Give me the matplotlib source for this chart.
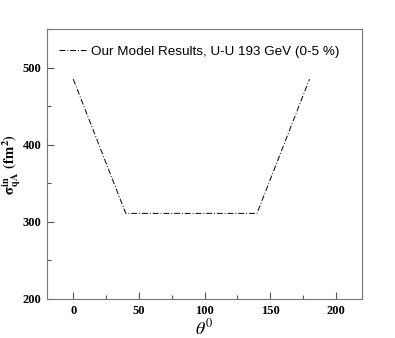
import matplotlib
matplotlib.use("Agg")
import matplotlib.pyplot as plt
from matplotlib.ticker import MultipleLocator

plt.rcParams["mathtext.fontset"] = "stix"

# data
theta = [0, 40, 140, 180]
sigma = [485, 311, 311, 485]
label = "Our Model Results, U-U 193 GeV (0-5 %)"

fig = plt.figure(figsize=(3.95, 3.38), dpi=100)
ax = fig.add_axes([47/395, 1 - 299/338, (362-47)/395, (299-29)/338])

ax.plot(theta, sigma, color="black", lw=0.7, linestyle=(0, (6, 2, 1, 2)), label=label)

ax.set_xlim(-20, 220)
ax.set_ylim(200, 550)
ax.xaxis.set_major_locator(MultipleLocator(50))
ax.xaxis.set_minor_locator(MultipleLocator(25))
ax.yaxis.set_major_locator(MultipleLocator(100))
ax.yaxis.set_minor_locator(MultipleLocator(50))
ax.tick_params(which="both", direction="in", color="#555555", width=0.8, pad=4)
ax.tick_params(which="major", length=5)
ax.tick_params(which="minor", length=3)
for s in ax.spines.values():
    s.set_color("#777777")
    s.set_linewidth(0.8)

for t in ax.get_xticklabels() + ax.get_yticklabels():
    t.set_fontfamily("Liberation Serif")
    t.set_fontweight("bold")
    t.set_fontsize(9)

ax.set_xlabel(r"$\theta^0$", fontsize=13, labelpad=1)
ax.set_ylabel(r"$\mathbf{\sigma^{in}_{qA}}$ $\mathbf{(fm^2)}$", fontsize=10.5)
ax.yaxis.set_label_coords(-0.077, 0.5)

leg = ax.legend(loc="center left", frameon=False,
                prop={"family": "Liberation Sans", "size": 9.7},
                handlelength=2.0, handletextpad=0.4,
                bbox_to_anchor=(0.0, 0.915))

fig.savefig("out.png", dpi=100)
